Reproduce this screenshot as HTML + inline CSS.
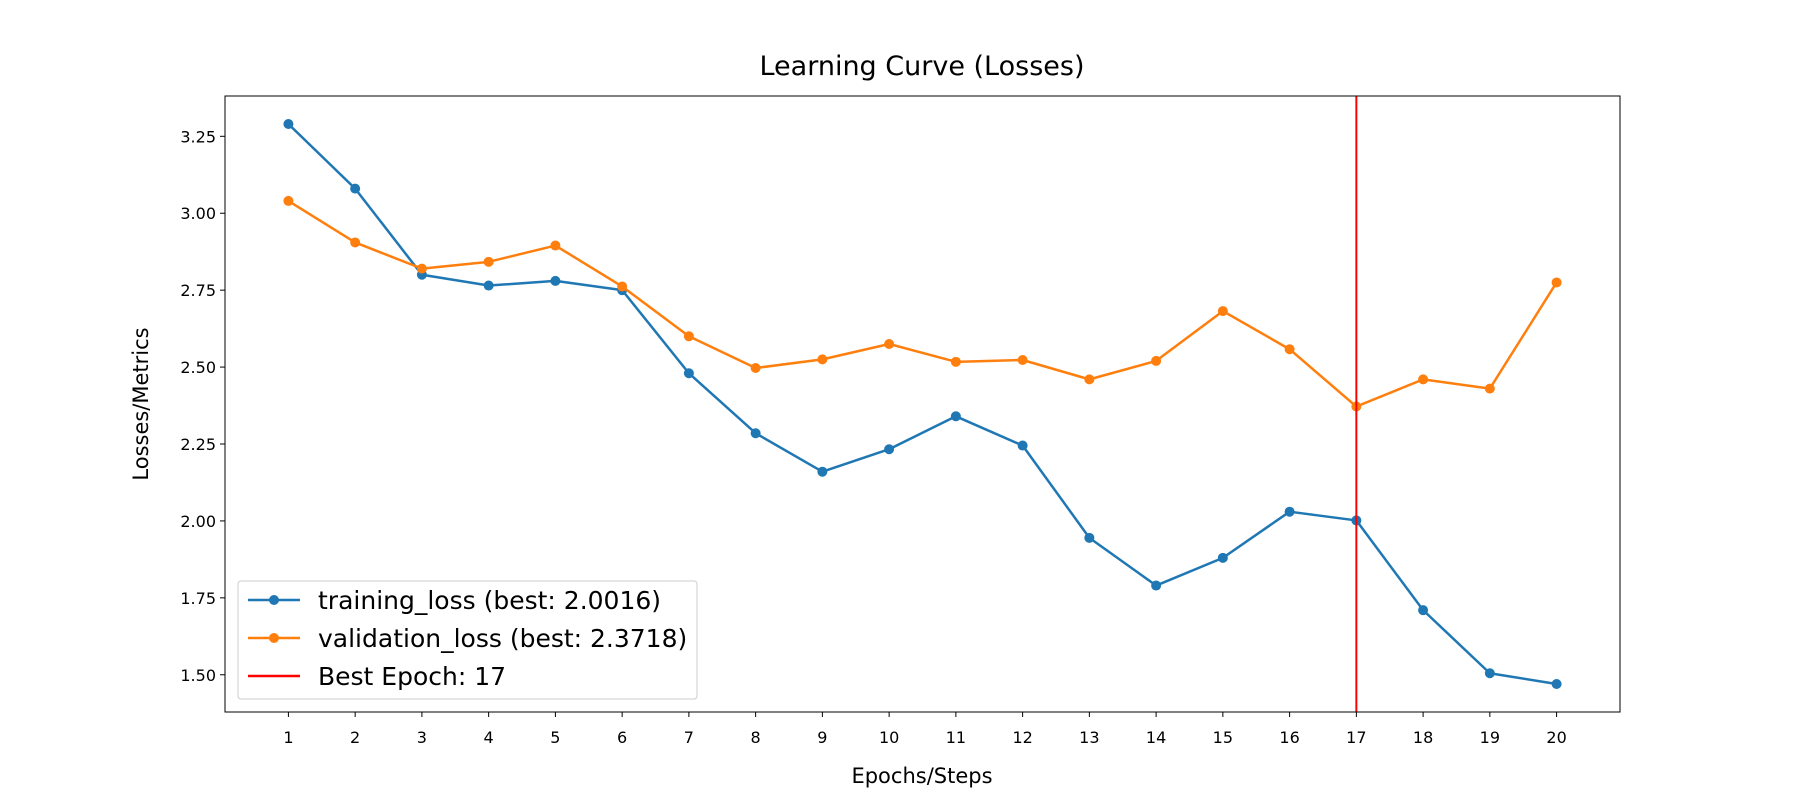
<!DOCTYPE html>
<html><head><meta charset="utf-8"><style>
html,body{margin:0;padding:0;background:#fff}
svg{display:block;font-family:"DejaVu Sans","Liberation Sans",sans-serif}
</style></head><body>
<svg id="chart" width="1800" height="800" viewBox="0 0 1800 800">
<rect width="1800" height="800" fill="#fff"/>
<text x="922" y="75" font-size="27" text-anchor="middle">Learning Curve (Losses)</text>
<text x="922" y="783" font-size="21" text-anchor="middle">Epochs/Steps</text>
<text transform="translate(148,404) rotate(-90)" font-size="21" text-anchor="middle">Losses/Metrics</text>
<g id="plot"></g>
</svg>
<script>
const epochs = [1,2,3,4,5,6,7,8,9,10,11,12,13,14,15,16,17,18,19,20];
const trainingLoss = [3.29,3.08,2.80,2.765,2.78,2.75,2.48,2.285,2.16,2.233,2.34,2.245,1.945,1.79,1.88,2.03,2.0016,1.71,1.505,1.47];
const validationLoss = [3.04,2.905,2.82,2.842,2.895,2.762,2.60,2.497,2.525,2.575,2.517,2.523,2.46,2.52,2.682,2.558,2.3718,2.46,2.43,2.775];
const yTicks = [1.50,1.75,2.00,2.25,2.50,2.75,3.00,3.25];
const bestEpoch = 17;
const legendLabels = ["training_loss (best: 2.0016)","validation_loss (best: 2.3718)","Best Epoch: 17"];

const NS="http://www.w3.org/2000/svg";
const L=225,R=1620,T=96,B=712;
const xmin=Math.min(...epochs),xmax=Math.max(...epochs),xr=xmax-xmin;
const x0=xmin-0.05*xr,x1=xmax+0.05*xr;
const all=trainingLoss.concat(validationLoss);
const dmin=Math.min(...all),dmax=Math.max(...all),dr=dmax-dmin;
const y0=dmin-0.05*dr,y1=dmax+0.05*dr;
const X=v=>L+(v-x0)/(x1-x0)*(R-L);
const Y=v=>B-(v-y0)/(y1-y0)*(B-T);
const g=document.getElementById('plot');
function mk(tag,attrs,parent){const e=document.createElementNS(NS,tag);for(const k in attrs)e.setAttribute(k,attrs[k]);(parent||g).appendChild(e);return e;}

epochs.forEach(e=>{
  const t=mk('line',{x1:X(e),x2:X(e),y1:B,y2:B+5,stroke:'#000','stroke-width':1});
  
  
  const l=mk('text',{x:X(e),y:B+31,'font-size':16,'text-anchor':'middle'});
  l.textContent=e;
  
  
});
yTicks.forEach(v=>{
  if(v<y0||v>y1)return;
  const t=mk('line',{x1:L-5,x2:L,y1:Y(v),y2:Y(v),stroke:'#000','stroke-width':1});
  
  
  const l=mk('text',{x:L-9,y:Y(v)+6,'font-size':16,'text-anchor':'end'});
  l.textContent=v.toFixed(2);
  
  
});

function series(vals,color,name){
  const p=mk('polyline',{points:vals.map((v,i)=>X(epochs[i])+','+Y(v)).join(' '),fill:'none',stroke:color,'stroke-width':2.5,'stroke-linejoin':'round'});
  
  
  vals.forEach((v,i)=>{
    const c=mk('circle',{cx:X(epochs[i]),cy:Y(v),r:5,fill:color});
    
    
  });
}
series(trainingLoss,'#1f77b4','training-loss');
series(validationLoss,'#ff7f0e','validation-loss');
const bl=mk('line',{x1:X(bestEpoch),x2:X(bestEpoch),y1:T,y2:B,stroke:'#ff0000','stroke-width':2});



const frame=mk('rect',{x:L,y:T,width:R-L,height:B-T,fill:'none',stroke:'#000','stroke-width':1});



const lg=mk('g',{});


mk('rect',{x:238,y:581,width:459,height:118,rx:3,fill:'#fff','fill-opacity':0.8,stroke:'#ccc','stroke-width':1},lg);
const colors=['#1f77b4','#ff7f0e','#ff0000'];
legendLabels.forEach((s,i)=>{
  const yy=600+i*38;
  const e=mk('g',{},lg);
  
  
  mk('line',{x1:248,x2:300,y1:yy,y2:yy,stroke:colors[i],'stroke-width':2.5},e);
  if(i<2)mk('circle',{cx:274,cy:yy,r:5,fill:colors[i]},e);
  const t=mk('text',{x:318,y:yy+9,'font-size':25},e);
  t.textContent=s;
});
</script>
</body></html>
